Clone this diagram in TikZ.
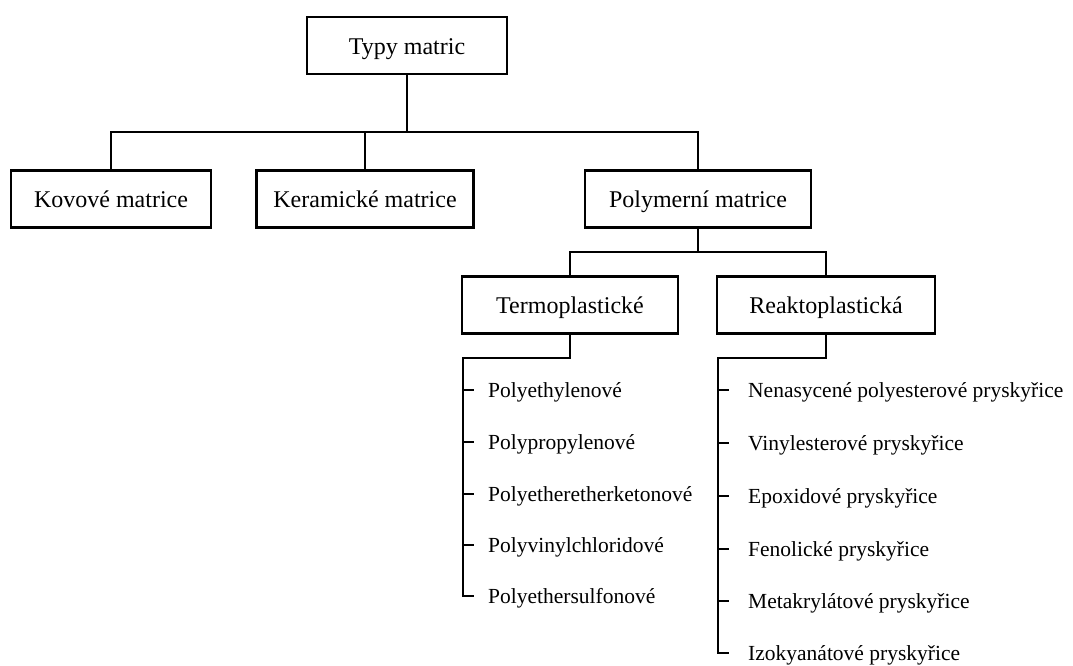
\documentclass[tikz,border=0pt]{standalone}
\usepackage{fontspec}
\setmainfont{Liberation Serif}
\begin{document}
\begin{tikzpicture}[x=1pt,y=-1pt,
  box/.style={draw,line width=2.6pt,inner sep=0pt,font=\fontsize{24}{28}\selectfont,minimum height=57pt,text height=18.5pt,text depth=1.5pt},
  conn/.style={line width=1.6pt},
  item/.style={anchor=west,inner sep=0pt,font=\fontsize{21.5}{25}\selectfont,text height=15pt,text depth=1pt}]
\useasboundingbox (0,0) rectangle (1073,665);
\node[box,minimum width=200pt] (top) at (407,45.5) {Typy matric};
\node[box,minimum width=200pt] (kov) at (111,199) {Kovové matrice};
\node[box,minimum width=217pt] (ker) at (365,199) {Keramické matrice};
\node[box,minimum width=226pt] (pol) at (698,199) {Polymerní matrice};
\node[box,minimum width=216pt] (ter) at (570,305) {Termoplastické};
\node[box,minimum width=218pt] (rea) at (826,305) {Reaktoplastická};
\coordinate (h1) at (407,132);
\draw[conn] (top.south) -- (h1);
\draw[conn] (kov.north) |- (h1) -| (pol.north);
\draw[conn] (ker.north) -- (ker.north |- h1);
\coordinate (h2) at (698,252);
\draw[conn] (pol.south) -- (h2);
\draw[conn] (ter.north) |- (h2) -| (rea.north);
% Termoplastické list
\coordinate (tj) at (570,358);
\coordinate (tv) at (463,358);
\foreach \n/\y/\t in {t1/390/Polyethylenové,t2/442/Polypropylenové,t3/494/Polyetheretherketonové,t4/545/Polyvinylchloridové,t5/596/Polyethersulfonové}{
  \node[item] (\n) at (488,\y) {\t};
  \coordinate (\n c) at (463,\y);
  \coordinate (\n e) at (474,\y);
}
\draw[conn] (ter.south) -- (tj) -- (tv) -- (t5c) -- (t5e);
\foreach \n in {t1,t2,t3,t4}{\draw[conn] (\n c) -- (\n e);}
% Reaktoplastická list
\coordinate (rj) at (826,358);
\coordinate (rv) at (718,358);
\foreach \n/\y/\t in {r1/390/Nenasycené polyesterové pryskyřice,r2/443/Vinylesterové pryskyřice,r3/496/Epoxidové pryskyřice,r4/549/Fenolické pryskyřice,r5/601/Metakrylátové pryskyřice,r6/653/Izokyanátové pryskyřice}{
  \node[item] (\n) at (748,\y) {\t};
  \coordinate (\n c) at (718,\y);
  \coordinate (\n e) at (729,\y);
}
\draw[conn] (rea.south) -- (rj) -- (rv) -- (r6c) -- (r6e);
\foreach \n in {r1,r2,r3,r4,r5}{\draw[conn] (\n c) -- (\n e);}
\end{tikzpicture}
\end{document}
